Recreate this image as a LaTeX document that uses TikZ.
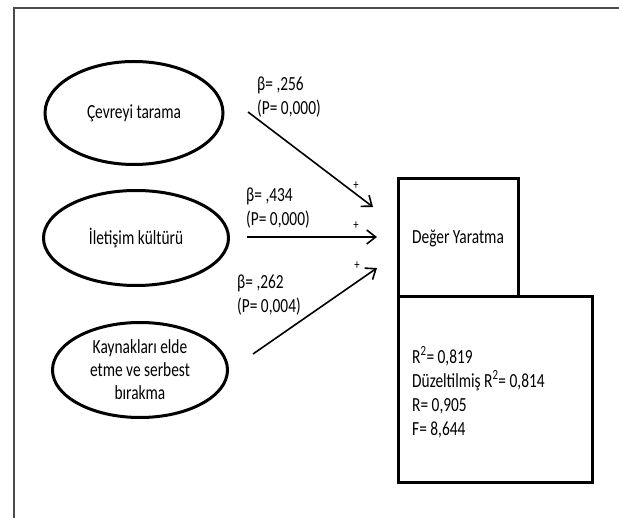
\documentclass[tikz,border=0pt]{standalone}
\usepackage{fontspec}
\setmainfont{Carlito}[FakeStretch=0.77]
\usetikzlibrary{shapes.geometric,arrows.meta}

\begin{document}
\begin{tikzpicture}[x=1pt,y=-1pt,
	every node/.style={font=\fontsize{20}{23}\selectfont},
	construct/.style={
		ellipse, draw, line width=3pt, align=center, inner sep=0pt
	},
	resultbox/.style={
		rectangle, draw, line width=3pt, inner sep=0pt
	},
	effect/.style={
		line width=1.6pt, -{Straight Barb[length=9pt,width=14pt]}
	},
	coef/.style={
		align=left, anchor=west, inner sep=0pt, font=\fontsize{20}{24}\selectfont
	},
	sign/.style={inner sep=0pt, font=\fontsize{14}{14}\selectfont}]
	\useasboundingbox (0,0) rectangle (619,518);
	
	% Frame (top and left edge only)
	\draw[line width=1.5pt, black!70] (619,8) -- (14,8) -- (14,518);
	
	% Constructs
	\node[construct, minimum width=178pt, minimum height=103pt] (cevre) at (134,113) {Çevreyi tarama};
	\node[construct, minimum width=185pt, minimum height=95pt] (iletisim) at (136,238) {İletişim kültürü};
	\node[construct, minimum width=175pt, minimum height=95pt] (kaynak) at (140,370) {Kaynakları elde\\etme ve serbest\\bırakma};
	
	% Outcome and model statistics
	\node[resultbox, minimum width=120pt, minimum height=118pt] (deger) at (458,238) {Değer Yaratma};
	\node[resultbox, minimum width=194pt, minimum height=186pt] (model) at (495,390) {};
	\node[coef] (stats) at (412,392) {R\textsuperscript{2}= 0,819\\Düzeltilmiş R\textsuperscript{2}= 0,814\\R= 0,905\\F= 8,644};
	
	% Free ends of the arrows
	\coordinate (cevreout) at (248,112);
	\coordinate (iletisimout) at (247,237);
	\coordinate (kaynakout) at (253,354);
	\coordinate (degerin1) at (373,207);
	\coordinate (degerin2) at (377,237);
	\coordinate (degerin3) at (377,268);
	
	% Arrows
	\draw[effect] (cevreout) -- (degerin1);
	\draw[effect] (iletisimout) -- (degerin2);
	\draw[effect] (kaynakout) -- (degerin3);
	
	% Coefficients
	\node[coef] (coef1) at (257,97) {β= ,256\\(P= 0,000)};
	\node[coef] (coef2) at (246,208) {β= ,434\\(P= 0,000)};
	\node[coef] (coef3) at (237,295) {β= ,262\\(P= 0,004)};
	
	% Signs
	\node[sign] (sign1) at (356,186) {+};
	\node[sign] (sign2) at (356,226) {+};
	\node[sign] (sign3) at (357,266) {+};
\end{tikzpicture}
\end{document}
